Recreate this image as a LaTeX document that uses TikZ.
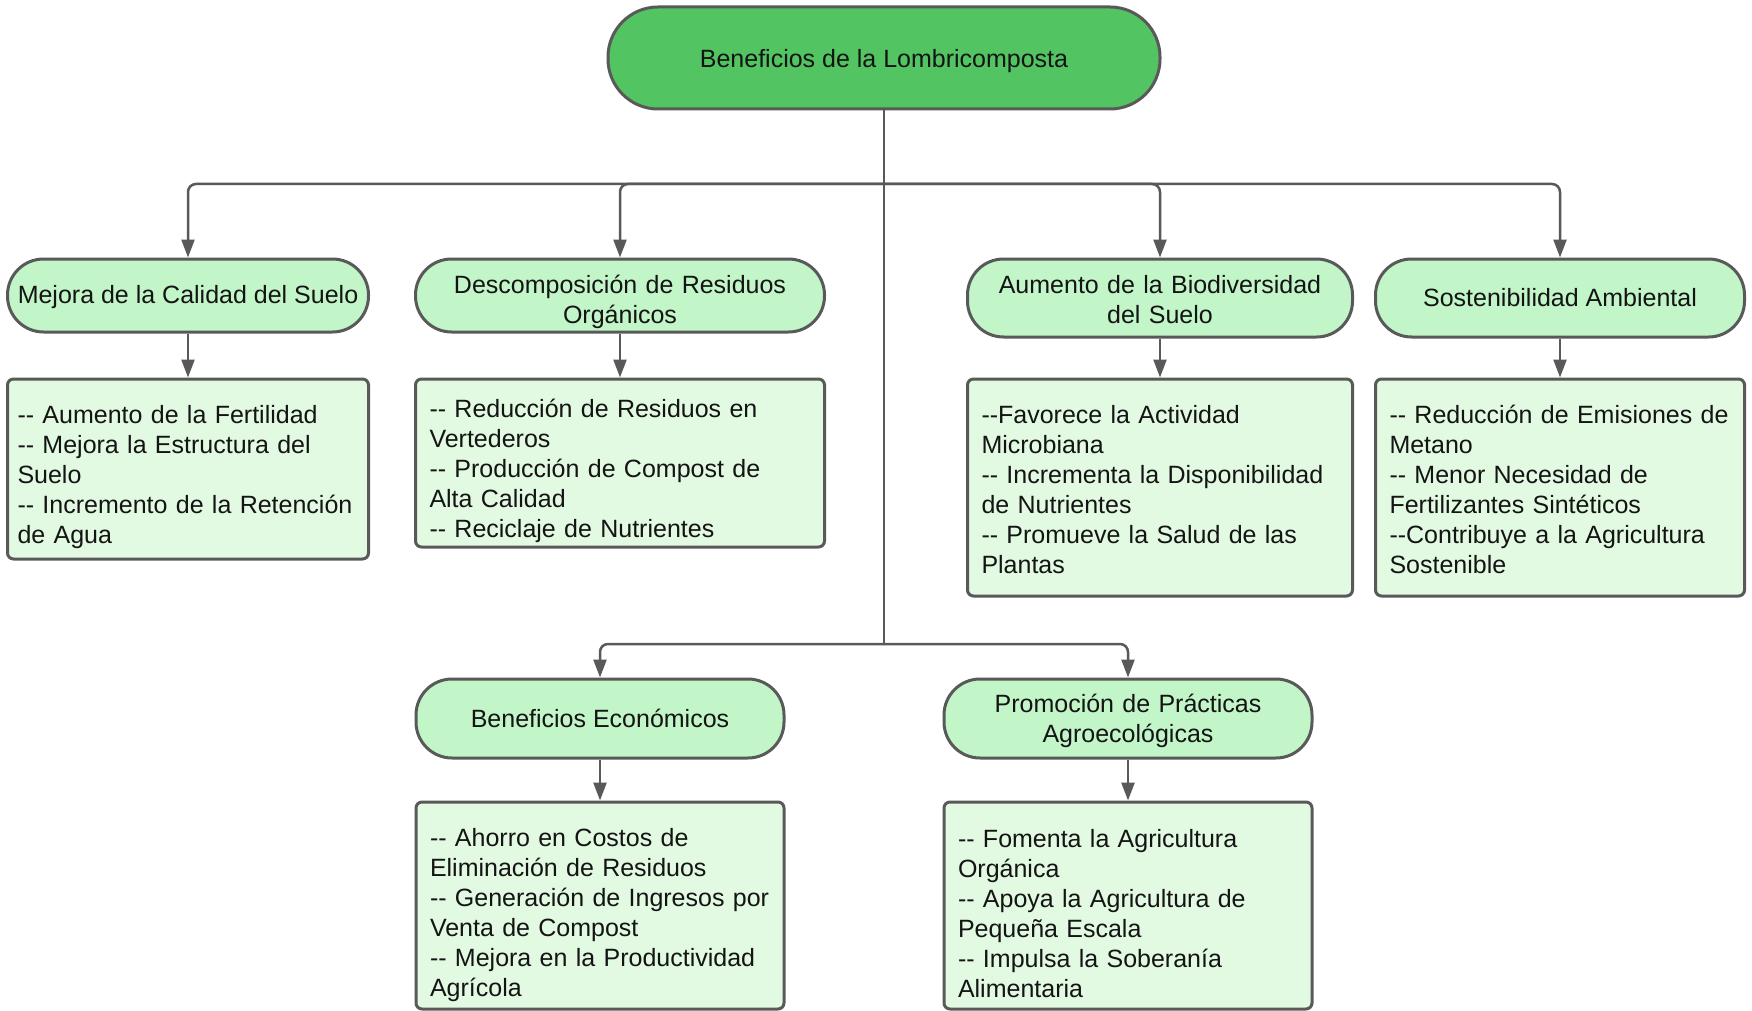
\documentclass[tikz,border=0pt]{standalone}
\usepackage{fontspec}
\setmainfont{Liberation Sans}
\usetikzlibrary{arrows.meta}
\hyphenpenalty=10000
\definecolor{rootgreen}{HTML}{52C462}
\definecolor{pillgreen}{HTML}{C2F5C8}
\definecolor{boxgreen}{HTML}{E2F9E2}
\definecolor{edgegray}{HTML}{595959}
\definecolor{ink}{HTML}{141414}
\tikzset{
  base/.style={draw=edgegray, line width=3pt, text=ink, font=\fontsize{25}{30}\selectfont, inner sep=0pt, align=center},
  topic/.style={base, fill=pillgreen, rounded corners=36pt, text height=#1},
  itembox/.style={base, fill=boxgreen, rounded corners=6pt, align=left, text height=#1},
  line/.style={draw=edgegray, line width=2.5pt, rounded corners=8pt},
  link/.style={line, -{Triangle[length=18pt,width=13pt]}},
}
\begin{document}
\begin{tikzpicture}[x=1pt, y=-1pt]
  \useasboundingbox (0,0) rectangle (1752,1011);

  % root
  \node[base, fill=rootgreen, rounded corners=50pt, minimum width=552pt, minimum height=102pt, text height=24pt] (root) at (884,58) {Beneficios de la Lombricomposta};

  % first row
  \node[topic=22pt, minimum width=361pt, minimum height=73pt] (soil) at (188,295.5) {Mejora de la Calidad del Suelo};
  \node[topic=31pt, minimum width=409pt, minimum height=73pt, text width=389pt] (decomp) at (620,295.5) {Descomposición de Residuos\\Orgánicos};
  \node[topic=22pt, minimum width=385pt, minimum height=78pt, text width=365pt] (biodiv) at (1160,298) {Aumento de la Biodiversidad\\del Suelo};
  \node[topic=18pt, minimum width=369pt, minimum height=78pt] (sustain) at (1560,298) {Sostenibilidad Ambiental};

  \node[itembox=34pt, minimum width=361pt, minimum height=180pt, text width=341pt] (soilList) at (188,469)
    {-{}- Aumento de la Fertilidad\\-{}- Mejora la Estructura del\\Suelo\\-{}- Incremento de la Retención\\de Agua};
  \node[itembox=34pt, minimum width=409pt, minimum height=168pt, text width=381pt] (decompList) at (620,463)
    {-{}- Reducción de Residuos en\\Vertederos\\-{}- Producción de Compost de\\Alta Calidad\\-{}- Reciclaje de Nutrientes};
  \node[itembox=23pt, minimum width=385pt, minimum height=217pt, text width=357pt] (biodivList) at (1160,487.5)
    {-{}-Favorece la Actividad\\Microbiana\\-{}- Incrementa la Disponibilidad\\de Nutrientes\\-{}- Promueve la Salud de las\\Plantas};
  \node[itembox=23pt, minimum width=369pt, minimum height=217pt, text width=341pt] (sustainList) at (1560,487.5)
    {-{}- Reducción de Emisiones de\\Metano\\-{}- Menor Necesidad de\\Fertilizantes Sintéticos\\-{}-Contribuye a la Agricultura\\Sostenible};

  % second row
  \node[topic=18pt, minimum width=368pt, minimum height=79pt] (econ) at (600,718.5) {Beneficios Económicos};
  \node[topic=24pt, minimum width=368pt, minimum height=79pt, text width=348pt] (agro) at (1128,718.5) {Promoción de Prácticas\\Agroecológicas};

  \node[itembox=38pt, minimum width=368pt, minimum height=207pt, text width=340pt] (econList) at (600,905.5)
    {-{}- Ahorro en Costos de\\Eliminación de Residuos\\-{}- Generación de Ingresos por\\Venta de Compost\\-{}- Mejora en la Productividad\\Agrícola};
  \node[itembox=34pt, minimum width=368pt, minimum height=207pt, text width=340pt] (agroList) at (1128,905.5)
    {-{}- Fomenta la Agricultura\\Orgánica\\-{}- Apoya la Agricultura de\\Pequeña Escala\\-{}- Impulsa la Soberanía\\Alimentaria};

  % connectors
  \coordinate (bus) at (884,184);
  \coordinate (bus2) at (884,644);
  \draw[line] (root.south) -- (bus) -- (bus2);
  \foreach \n in {soil, decomp, biodiv, sustain}
    \draw[link] (bus) -| (\n.north);
  \foreach \n in {econ, agro}
    \draw[link] (bus2) -| (\n.north);
  \foreach \n in {soil, decomp, biodiv, sustain, econ, agro}
    \draw[link] (\n.south) -- (\n List.north);
\end{tikzpicture}
\end{document}
